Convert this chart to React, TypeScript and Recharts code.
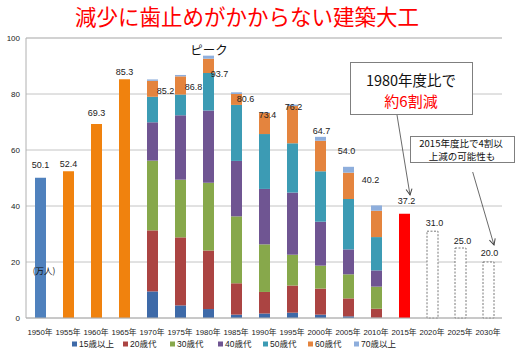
import React from 'react';
import { BarChart, Bar, XAxis, YAxis, CartesianGrid, LabelList, ReferenceLine, Cell } from 'recharts';

const years = ['1950年', '1955年', '1960年', '1965年', '1970年', '1975年', '1980年', '1985年', '1990年', '1995年', '2000年', '2005年', '2010年', '2015年', '2020年', '2025年', '2030年'];
const totals = [50.1, 52.4, 69.3, 85.3, 85.2, 86.8, 93.7, 80.6, 73.4, 76.2, 64.7, 54.0, 40.2, 37.2, 31.0, 25.0, 20.0];
const earlyTotals = [50.1, 52.4, 69.3, 85.3, null, null, null, null, null, null, null, null, null, null, null, null, null];
const age15 = [null, null, null, null, 9.5, 4.5, 3.2, 1.2, 1.6, 1.9, 1.2, 0.6, 0.1, null, null, null, null];
const age20 = [null, null, null, null, 21.8, 24.3, 20.9, 11.2, 7.7, 9.7, 9.3, 6.4, 3.2, null, null, null, null];
const age30 = [null, null, null, null, 24.9, 20.6, 24.2, 23.9, 17.0, 11.0, 8.2, 8.6, 7.9, null, null, null, null];
const age40 = [null, null, null, null, 13.7, 23.0, 25.8, 19.8, 19.8, 22.2, 15.7, 8.9, 5.8, null, null, null, null];
const age50 = [null, null, null, null, 9.1, 7.4, 13.4, 20.0, 19.6, 17.6, 18.0, 18.0, 11.9, null, null, null, null];
const age60 = [null, null, null, null, 5.7, 6.5, 5.1, 3.9, 7.5, 13.3, 10.9, 9.4, 9.4, null, null, null, null];
const age70 = [null, null, null, null, 0.5, 0.5, 1.1, 0.6, 0.2, 0.5, 1.4, 2.1, 1.9, null, null, null, null];
const actual2015 = [null, null, null, null, null, null, null, null, null, null, null, null, null, 37.2, null, null, null];
const forecast = [null, null, null, null, null, null, null, null, null, null, null, null, null, null, 31.0, 25.0, 20.0];
const yTicks = [0, 20, 40, 60, 80, 100];

const seriesNames = ['15歳以上', '20歳代', '30歳代', '40歳代', '50歳代', '60歳代', '70歳以上'];
const seriesValues = [age15, age20, age30, age40, age50, age60, age70];
const seriesColors = ['#3E6AA8', '#AB4442', '#87A84B', '#6F5592', '#3C9BB4', '#E4843E', '#8EAEDC'];
const earlyColors = ['#4F81BD', '#F0820E', '#F0820E', '#F0820E'];

// label placement nudges (style only), relative to top-centre of each column
const labelNudge: [number, number][] = [
  [0, -12], [0, -7], [0, -10], [0, -7], [13, 12], [13, 13], [11, 19], [9, 7], [3, 3],
  [1, 3], [1, -5], [-2, -15], [-6, -25], [2, -12], [2, -8], [2, -6], [1, -8],
];

const FONT = "'Liberation Sans', 'Noto Sans CJK JP', sans-serif";
const JP = "'Noto Sans CJK JP', 'Liberation Sans', sans-serif";

const data = years.map((y, i) => {
  const row: any = { year: y, early: earlyTotals[i], actual: actual2015[i], forecast: forecast[i], total: totals[i] };
  seriesValues.forEach((arr, k) => { row['s' + k] = arr[i]; });
  return row;
});

// which stacked key is the top of each column
const stackOrder = ['early', 's0', 's1', 's2', 's3', 's4', 's5', 's6', 'actual', 'forecast'];
const topKey = data.map((row) => {
  let t = '';
  stackOrder.forEach((k) => { if (row[k] != null) t = k; });
  return t;
});

const makeLabel = (key: string) => (props: any) => {
  const vb = props.viewBox || {};
  const x = props.x ?? vb.x;
  const y = props.y ?? vb.y;
  const w = props.width ?? vb.width ?? 0;
  const v = props.value;
  if (v == null || x == null) return null;
  const idx = totals.indexOf(Number(v));
  if (idx < 0 || topKey[idx] !== key) return null;
  const [dx, dy] = labelNudge[idx] || [0, -8];
  return (
    <text key={key + idx} x={x + w / 2 + dx} y={y + dy} textAnchor="middle" dominantBaseline="middle" fontSize={9} fill="#222" fontFamily={FONT}>
      {Number(v).toFixed(1)}
    </text>
  );
};

export default function App() {
  const legendX = [72, 123, 170, 218, 263, 308, 354];
  return (
    <div style={{ position: 'absolute', left: 0, top: 0, width: 525, height: 355, background: '#fff' }}>
      <BarChart width={525} height={355} data={data} margin={{ top: 38, right: 23, left: 0, bottom: 7 }}>
        <CartesianGrid vertical={false} stroke="#c4c4c4" />
        <ReferenceLine y={100} stroke="#d2d2d2" strokeWidth={2} />
        <XAxis dataKey="year" height={30} tickLine={false} tickMargin={5} axisLine={{ stroke: '#b0b0b0' }}
          interval={0} tick={{ fontSize: 7.8, fill: '#222', fontFamily: FONT }} />
        <YAxis width={26} domain={[0, 100]} ticks={yTicks} tickLine={false} tickSize={4}
          axisLine={{ stroke: '#b0b0b0' }} tick={{ fontSize: 8, fill: '#222', fontFamily: FONT }} />
        <Bar dataKey="early" stackId="a" barSize={11} isAnimationActive={false}>
          {data.map((d, i) => <Cell key={i} fill={earlyColors[i] || '#4F81BD'} />)}
          <LabelList dataKey="total" content={makeLabel('early')} />
        </Bar>
        {seriesNames.map((n, k) => (
          <Bar key={n} name={n} dataKey={'s' + k} stackId="a" barSize={11} fill={seriesColors[k]} isAnimationActive={false}>
            {k === 6 ? <LabelList dataKey="total" content={makeLabel('s6')} /> : null}
          </Bar>
        ))}
        <Bar dataKey="actual" stackId="a" barSize={11} fill="#FF0000" isAnimationActive={false}>
          <LabelList dataKey="total" content={makeLabel('actual')} />
        </Bar>
        <Bar dataKey="forecast" stackId="a" barSize={11} fill="#fff" stroke="#555" strokeWidth={0.8} strokeDasharray="2 1.5" isAnimationActive={false}>
          <LabelList dataKey="total" content={makeLabel('forecast')} />
        </Bar>
      </BarChart>
      <svg width={525} height={355} style={{ position: 'absolute', left: 0, top: 0, pointerEvents: 'none' }}>
        <defs>
          <marker id="arr" markerWidth="8" markerHeight="8" refX="7" refY="4" orient="auto" markerUnits="userSpaceOnUse">
            <path d="M1,1 L7,4 L1,7" fill="none" stroke="#444" strokeWidth="1" />
          </marker>
        </defs>
        <text x={247} y={25} textAnchor="middle" fontSize={21.5} fill="#FF0000" fontFamily={JP}>減少に歯止めがかからない建築大工</text>
        <text x={209} y={54.5} textAnchor="middle" fontSize={12.5} fill="#111" fontFamily={JP}>ピーク</text>
        <text x={44} y={274} textAnchor="middle" fontSize={8.5} fill="#111" fontFamily={JP}>(万人)</text>
        <rect x={350.5} y={62.5} width={122} height={52} fill="#fff" stroke="#7f7f7f" strokeWidth={1} />
        <text x={411} y={86} textAnchor="middle" fontSize={14.5} fill="#111" fontFamily={JP}>1980年度比で</text>
        <text x={411} y={106.5} textAnchor="middle" fontSize={15} fill="#FF0000" fontFamily={JP}>約6割減</text>
        <line x1={397} y1={115} x2={410} y2={195} stroke="#444" strokeWidth={0.8} markerEnd="url(#arr)" />
        <rect x={410.5} y={136.5} width={104} height={26} fill="#fff" stroke="#7f7f7f" strokeWidth={1} />
        <text x={461} y={146.5} textAnchor="middle" fontSize={9.5} fill="#111" fontFamily={JP}>2015年度比で4割以</text>
        <text x={462} y={159.5} textAnchor="middle" fontSize={9.5} fill="#111" fontFamily={JP}>上減の可能性も</text>
        <line x1={472.7} y1={172} x2={494} y2={245} stroke="#444" strokeWidth={0.8} markerEnd="url(#arr)" />
        {seriesNames.map((n, k) => (
          <g key={n}>
            <rect x={legendX[k]} y={341.5} width={5} height={5} fill={seriesColors[k]} />
            <text x={legendX[k] + 7} y={347} fontSize={8.5} fill="#222" fontFamily={FONT}>{n}</text>
          </g>
        ))}
      </svg>
    </div>
  );
}
